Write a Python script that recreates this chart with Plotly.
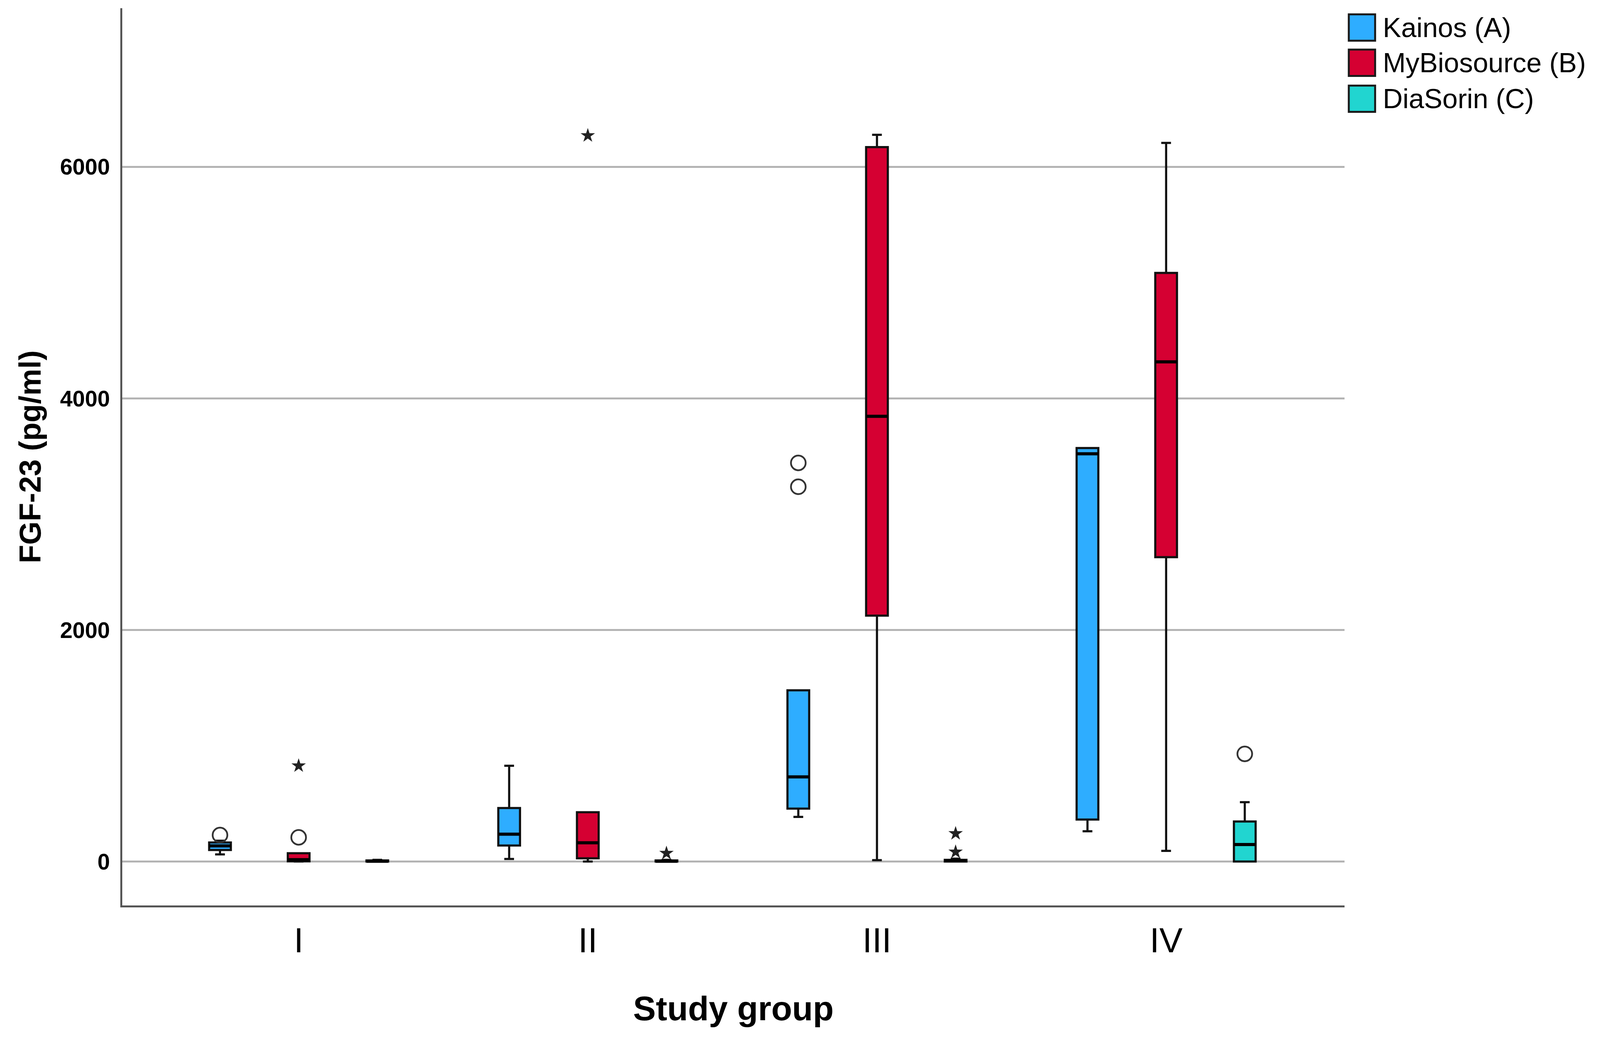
import plotly.graph_objects as go

groups = ["I", "II", "III", "IV"]
series_names = ["Kainos (A)", "MyBiosource (B)", "DiaSorin (C)"]
series_colors = ["#2EADFF", "#D50032", "#21D5D0"]

# Box statistics per series (I, II, III, IV)
kainos_low = [62, 22, 386, 262]
kainos_q1 = [100, 139, 457, 363]
kainos_med = [135, 236, 731, 3522]
kainos_q3 = [165, 462, 1479, 3571]
kainos_high = [180, 827, 1479, 3571]

mybio_low = [0, 0, 12, 92]
mybio_q1 = [2, 28, 2124, 2629]
mybio_med = [16, 162, 3845, 4316]
mybio_q3 = [72, 426, 6170, 5084]
mybio_high = [72, 426, 6277, 6207]

dia_low = [0, 0, 0, 0]
dia_q1 = [0, 0, 0, 0]
dia_med = [3, 3, 5, 147]
dia_q3 = [10, 10, 15, 346]
dia_high = [15, 15, 25, 513]

# Outliers: circles (mild) and stars (extreme)
kainos_circle_x = ["I", "III", "III"]
kainos_circle_y = [229, 3443, 3237]
mybio_circle_x = ["I"]
mybio_circle_y = [209]
mybio_star_x = ["I", "II"]
mybio_star_y = [827, 6270]
dia_star_x = ["II", "III", "III"]
dia_star_y = [72, 242, 83]
dia_circle_x = ["IV"]
dia_circle_y = [930]

stats = [
    (kainos_low, kainos_q1, kainos_med, kainos_q3, kainos_high),
    (mybio_low, mybio_q1, mybio_med, mybio_q3, mybio_high),
    (dia_low, dia_q1, dia_med, dia_q3, dia_high),
]

# page rendering compensation (reference px -> css px)
K = 1.009
OFF = 8
def c(p):
    return p / K - OFF
def s(v):
    return v / K

fig = go.Figure()
keys = ["A", "B", "C"]

for i, (lo, q1, md, q3, hi) in enumerate(stats):
    fig.add_trace(go.Box(
        x=groups, q1=q1, median=md, q3=q3, lowerfence=lo, upperfence=hi,
        name=series_names[i], offsetgroup=keys[i], alignmentgroup="g",
        fillcolor=series_colors[i], line=dict(color="#111111", width=5.5),
        whiskerwidth=0.45, boxpoints=False, hoverinfo="skip", showlegend=False,
    ))

# thicker median lines
for i, (lo, q1, md, q3, hi) in enumerate(stats):
    fig.add_trace(go.Box(
        x=groups, q1=md, median=md, q3=md, lowerfence=md, upperfence=md,
        offsetgroup=keys[i], alignmentgroup="g",
        fillcolor="rgba(0,0,0,0)", line=dict(color="#000000", width=8),
        whiskerwidth=0, boxpoints=False, hoverinfo="skip", showlegend=False,
    ))

def outliers(xs, ys, key, symbol):
    if symbol == "circle":
        marker = dict(symbol="circle-open", size=s(38), color="#333333",
                      line=dict(width=4.5, color="#333333"))
    else:
        marker = dict(symbol="star", size=s(28), color="#222222",
                      line=dict(width=0))
    return go.Box(
        x=xs, y=ys, offsetgroup=key, alignmentgroup="g",
        boxpoints="all", jitter=0, pointpos=0,
        fillcolor="rgba(0,0,0,0)", line=dict(width=0, color="rgba(0,0,0,0)"),
        marker=marker, hoverinfo="skip", showlegend=False,
    )

fig.add_trace(outliers(kainos_circle_x, kainos_circle_y, "A", "circle"))
fig.add_trace(outliers(mybio_circle_x, mybio_circle_y, "B", "circle"))
fig.add_trace(outliers(mybio_star_x, mybio_star_y, "B", "star"))
fig.add_trace(outliers(dia_star_x, dia_star_y, "C", "star"))
fig.add_trace(outliers(dia_circle_x, dia_circle_y, "C", "circle"))

W, H = c(4132), c(2679)
L, R, T, B = c(316), c(3473), c(21), c(2340)

fig.update_layout(
    width=round(W), height=round(H),
    margin=dict(l=L, r=W - R, t=T, b=H - B, pad=0),
    paper_bgcolor="white", plot_bgcolor="white",
    boxmode="group", boxgap=0.184, boxgroupgap=0.724,
    showlegend=False,
    font=dict(family="Liberation Sans, Arial, sans-serif", color="#000000"),
    xaxis=dict(
        type="category", categoryorder="array", categoryarray=groups,
        range=[-0.61, 3.617], showgrid=False, zeroline=False,
        showline=True, linecolor="#555555", linewidth=5,
        ticks="", tickfont=dict(size=s(90), color="#000000"),
        ticklabelstandoff=8,
        title=dict(text="<b>Study group</b>", font=dict(size=s(88)), standoff=96),
    ),
    yaxis=dict(
        range=[-379, 7370], tickvals=[0, 2000, 4000, 6000],
        ticktext=["<b>0</b>", "<b>2000</b>", "<b>4000</b>", "<b>6000</b>"],
        showgrid=True, gridcolor="#B4B4B4", gridwidth=5,
        zeroline=False, showline=True, linecolor="#555555", linewidth=5,
        ticks="", tickfont=dict(size=s(58), color="#000000"),
        ticklabelstandoff=15,
        title=dict(text="<b>FGF-23 (pg/ml)</b>", font=dict(size=s(78)), standoff=25),
    ),
)

# Legend drawn as shapes + text to match the reference size
pw, ph = R - L, B - T
def px_to_paper(x, y):
    return (c(x) - L) / pw, (B - c(y)) / ph

row_centers = [71, 162, 255]
for i, yc in enumerate(row_centers):
    x0, y0 = px_to_paper(3484, yc + 34)
    x1, y1 = px_to_paper(3552, yc - 34)
    fig.add_shape(type="rect", xref="paper", yref="paper", x0=x0, y0=y0, x1=x1, y1=y1,
                  fillcolor=series_colors[i], line=dict(color="#1A1A1A", width=5))
    tx, ty = px_to_paper(3570, yc)
    fig.add_annotation(xref="paper", yref="paper", x=tx, y=ty, text=series_names[i],
                       showarrow=False, xanchor="left", yanchor="middle",
                       font=dict(size=s(71), color="#000000"))

fig.write_html("out.html")
